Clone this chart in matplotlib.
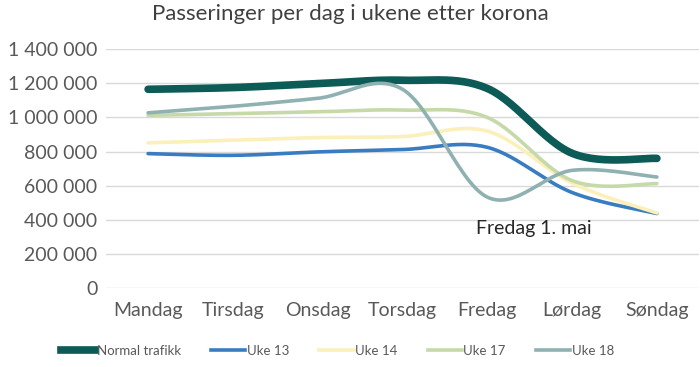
import numpy as np
import matplotlib.pyplot as plt
from matplotlib.lines import Line2D

days = ["Mandag", "Tirsdag", "Onsdag", "Torsdag", "Fredag", "Lørdag", "Søndag"]
normal = [1165000, 1175000, 1198000, 1218000, 1170000, 790000, 760000]
uke13 = [788000, 778000, 798000, 812000, 825000, 560000, 437000]
uke14 = [851000, 867000, 882000, 888000, 920000, 615000, 440000]
uke17 = [1012000, 1022000, 1033000, 1043000, 1000000, 630000, 612000]
uke18 = [1027000, 1065000, 1112000, 1165000, 533000, 690000, 651000]

series = [
    ("Normal trafikk", normal, "#0c5b56", 5.5),
    ("Uke 13", uke13, "#3a7cc2", 2.6),
    ("Uke 14", uke14, "#fbf0b9", 2.6),
    ("Uke 17", uke17, "#c6d9a9", 2.6),
    ("Uke 18", uke18, "#8fb1b1", 2.6),
]


def smooth(y, n=30):
    # Excel-like smoothed line: cubic Bezier through points (Catmull-Rom control points)
    x = np.arange(len(y), dtype=float)
    y = np.asarray(y, dtype=float)
    px = np.concatenate([[x[0]], x, [x[-1]]])
    py = np.concatenate([[y[0]], y, [y[-1]]])
    xs, ys = [], []
    t = np.linspace(0, 1, n)
    for i in range(len(y) - 1):
        p0 = np.array([px[i + 1], py[i + 1]])
        p3 = np.array([px[i + 2], py[i + 2]])
        c1 = p0 + (np.array([px[i + 2], py[i + 2]]) - np.array([px[i], py[i]])) / 6
        c2 = p3 - (np.array([px[i + 3], py[i + 3]]) - np.array([px[i + 1], py[i + 1]])) / 6
        b = ((1 - t) ** 3)[:, None] * p0 + (3 * (1 - t) ** 2 * t)[:, None] * c1 \
            + (3 * (1 - t) * t ** 2)[:, None] * c2 + (t ** 3)[:, None] * p3
        xs.append(b[:, 0])
        ys.append(b[:, 1])
    return np.concatenate(xs), np.concatenate(ys)


plt.rcParams["font.family"] = ["Lato", "DejaVu Sans"]

fig = plt.figure(figsize=(7, 3.67), dpi=100)
ax = fig.add_axes([0.151, 0.215, 0.848, 0.651])

for name, vals, color, lw in series:
    sx, sy = smooth(vals)
    ax.plot(sx, sy, color=color, lw=lw, solid_capstyle="round", label=name)

ax.set_xlim(-0.5, 6.5)
ax.set_ylim(0, 1400000)
ax.set_yticks(range(0, 1400001, 200000))
ax.set_yticklabels([f"{v:,}".replace(",", " ") for v in range(0, 1400001, 200000)])
ax.set_xticks(range(len(days)))
ax.set_xticklabels(days)
ax.tick_params(axis="both", length=0, labelsize=14, colors="#595959")
ax.tick_params(axis="x", pad=10)
ax.tick_params(axis="y", pad=6)
ax.grid(axis="y", color="#d9d9d9", lw=1)
ax.set_axisbelow(True)
for s in ax.spines.values():
    s.set_visible(False)

ax.text(4.55, 350000, "Fredag 1. mai", ha="center", va="center", fontsize=14, color="#262626")

fig.suptitle("Passeringer per dag i ukene etter korona", y=0.99, fontsize=16, color="#404040")

handles = [Line2D([], [], color=c, lw=lw) for _, _, c, lw in series]
fig.legend(handles, [s[0] for s in series], loc="lower center", ncol=5, frameon=False,
           bbox_to_anchor=(0.482, -0.005), fontsize=9.5, handlelength=2.6, handletextpad=0.1,
           columnspacing=2.3, labelcolor="#595959")

plt.savefig("out.png")
